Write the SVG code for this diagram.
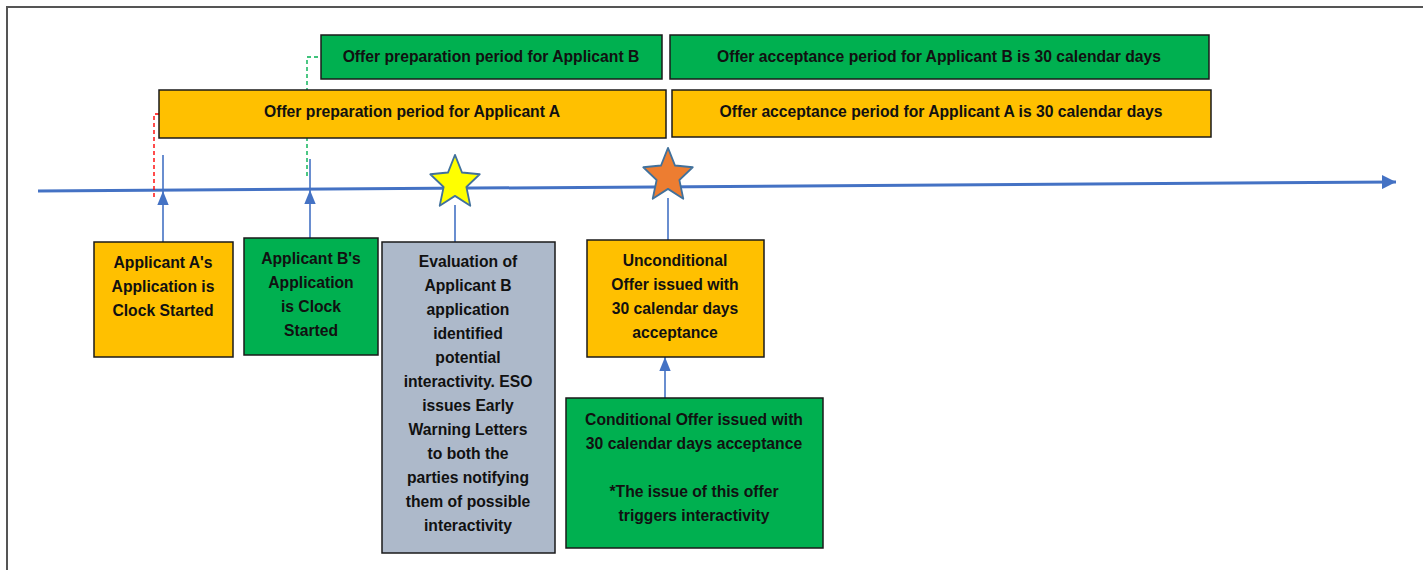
<svg xmlns="http://www.w3.org/2000/svg" width="1423" height="570" viewBox="0 0 1423 570">
<style>
  text { font-family: "Liberation Sans", Arial, sans-serif; font-weight: bold; font-size: 15.7px; fill: #111; text-anchor: middle; }
  .box { stroke: #1a1a1a; stroke-width: 1.5; }
  .orange { fill: #FFC000; }
  .green { fill: #00B050; }
  .grey { fill: #ADB9CA; }
  .conn { stroke: #4472C4; stroke-width: 1.6; fill: none; }
  .tick { stroke: #4472C4; stroke-width: 1.6; fill: none; }
  .star { stroke: #41719C; stroke-width: 1.8; stroke-linejoin: round; }
</style>
<defs>
  <marker id="ah" markerUnits="userSpaceOnUse" markerWidth="14" markerHeight="16" refX="16" refY="6.5" orient="auto" viewBox="0 0 16 13">
    <path d="M0,0 L16,6.5 L0,13 Z" fill="#4472C4"/>
  </marker>
  <marker id="axisHead" markerUnits="userSpaceOnUse" markerWidth="14" markerHeight="14" refX="14" refY="7" orient="auto" viewBox="0 0 14 14">
    <path d="M0,0 L14,7 L0,14 Z" fill="#4472C4"/>
  </marker>
  <polygon id="star5" points="0,-26 7.03,-9.68 24.73,-8.03 11.38,3.70 15.28,21.03 0,11.96 -15.28,21.03 -11.38,3.70 -24.73,-8.03 -7.03,-9.68"/>
</defs>

<rect x="7" y="7" width="1440" height="600" fill="#fff" stroke="#555" stroke-width="2"/>

<g id="connectors">
  <path d="M38,191 L1396,182" stroke="#4472C4" stroke-width="3" fill="none" marker-end="url(#axisHead)"/>
  <path d="M154,197 L154,114 L159,114" stroke="#FF0000" stroke-width="1.4" stroke-dasharray="4,3" fill="none"/>
  <path d="M307,176 L307,57 L321,57" stroke="#00B050" stroke-width="1.4" stroke-dasharray="4,3" fill="none"/>
  <path class="tick" d="M163,191 L163,155"/>
  <path class="conn" d="M163,242 L163,191" marker-end="url(#ah)"/>
  <path class="tick" d="M310,190 L310,159"/>
  <path class="conn" d="M310,238 L310,190" marker-end="url(#ah)"/>
  <path class="conn" d="M455,205 L455,242"/>
  <path class="conn" d="M668,198 L668,240"/>
  <path class="conn" d="M665,398 L665,357" marker-end="url(#ah)"/>
</g>

<g id="bar-prep-b">
  <rect class="box green" x="321" y="35" width="341" height="44"/>
  <text x="491" y="62">Offer preparation period for Applicant B</text>
</g>
<g id="bar-accept-b">
  <rect class="box green" x="670" y="35" width="539" height="44"/>
  <text x="939" y="62">Offer acceptance period for Applicant B is 30 calendar days</text>
</g>
<g id="bar-prep-a">
  <rect class="box orange" x="159" y="90" width="507" height="48"/>
  <text x="412" y="117">Offer preparation period for Applicant A</text>
</g>
<g id="bar-accept-a">
  <rect class="box orange" x="672" y="90" width="539" height="47"/>
  <text x="941" y="117">Offer acceptance period for Applicant A is 30 calendar days</text>
</g>

<g id="star-yellow">
  <use href="#star5" transform="translate(455,183) scale(1,1.08)" fill="#FFFF00" class="star"/>
</g>
<g id="star-orange">
  <use href="#star5" transform="translate(668,176) scale(1,1.08)" fill="#ED7D31" class="star"/>
</g>

<g id="box-a">
  <rect class="box orange" x="94" y="242" width="139" height="115"/>
  <text x="163" y="268">Applicant A's</text>
  <text x="163" y="292">Application is</text>
  <text x="163" y="316">Clock Started</text>
</g>
<g id="box-b">
  <rect class="box green" x="244" y="238" width="134" height="117"/>
  <text x="311" y="264">Applicant B's</text>
  <text x="311" y="288">Application</text>
  <text x="311" y="312">is Clock</text>
  <text x="311" y="336">Started</text>
</g>
<g id="box-eval">
  <rect class="box grey" x="382" y="242" width="173" height="311"/>
  <text x="468" y="267">Evaluation of</text>
  <text x="468" y="291">Applicant B</text>
  <text x="468" y="315">application</text>
  <text x="468" y="339">identified</text>
  <text x="468" y="363">potential</text>
  <text x="468" y="387">interactivity. ESO</text>
  <text x="468" y="411">issues Early</text>
  <text x="468" y="435">Warning Letters</text>
  <text x="468" y="459">to both the</text>
  <text x="468" y="483">parties notifying</text>
  <text x="468" y="507">them of possible</text>
  <text x="468" y="531">interactivity</text>
</g>
<g id="box-unconditional">
  <rect class="box orange" x="587" y="240" width="177" height="117"/>
  <text x="675" y="266">Unconditional</text>
  <text x="675" y="290">Offer issued with</text>
  <text x="675" y="314">30 calendar days</text>
  <text x="675" y="338">acceptance</text>
</g>
<g id="box-conditional">
  <rect class="box green" x="566" y="398" width="257" height="150"/>
  <text x="694" y="425">Conditional Offer issued with</text>
  <text x="694" y="449">30 calendar days acceptance</text>
  <text x="694" y="497">*The issue of this offer</text>
  <text x="694" y="521">triggers interactivity</text>
</g>
</svg>
